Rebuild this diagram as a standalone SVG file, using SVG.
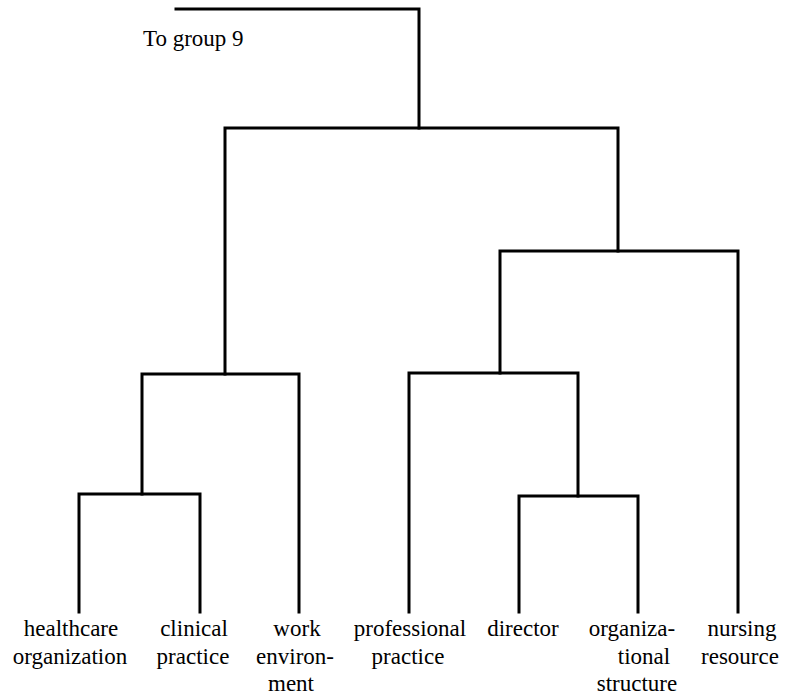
<svg xmlns="http://www.w3.org/2000/svg" width="790" height="697" viewBox="0 0 790 697">
  <style>
    .link { fill: none; stroke: #000; stroke-width: 3; stroke-linecap: square; stroke-linejoin: miter; }
    .lbl { font-size: 23px; fill: #000; text-anchor: middle; }
  </style>
  <rect width="790" height="697" fill="#fff"/>

  <!-- dendrogram links -->
  <g id="connectors">
    <!-- root: off to group 9 -->
    <path class="link" d="M176,9 H419 V128"/>
    <!-- top merge -->
    <path class="link" d="M225,374 V128 H618 V251"/>
    <!-- left cluster -->
    <path class="link" d="M142,494 V374 H299 V612"/>
    <path class="link" d="M79,612 V494 H200 V612"/>
    <!-- right cluster -->
    <path class="link" d="M500,373 V251 H738 V612"/>
    <path class="link" d="M409,612 V373 H578 V496"/>
    <path class="link" d="M519,612 V496 H638 V612"/>
  </g>

  <g id="labels">
    <g id="to-group-9">
      <text class="lbl" x="143" y="46" style="text-anchor:start;font-family:'Liberation Serif'">To group 9</text>
    </g>
    <g id="healthcare-organization">
      <text class="lbl" x="71" y="636" style="font-family:'Liberation Serif'">healthcare</text>
      <text class="lbl" x="70" y="664" style="font-family:'Liberation Serif'">organization</text>
    </g>
    <g id="clinical-practice">
      <text class="lbl" x="194" y="636" style="font-family:'Liberation Serif'">clinical</text>
      <text class="lbl" x="193" y="664" style="font-family:'Liberation Serif'">practice</text>
    </g>
    <g id="work-environment">
      <text class="lbl" x="297" y="636" style="font-family:'Liberation Serif'">work</text>
      <text class="lbl" x="295" y="664" style="font-family:'Liberation Serif'">environ-</text>
      <text class="lbl" x="291" y="691" style="font-family:'Liberation Serif'">ment</text>
    </g>
    <g id="professional-practice">
      <text class="lbl" x="410" y="636" style="font-family:'Liberation Serif'">professional</text>
      <text class="lbl" x="408" y="664" style="font-family:'Liberation Serif'">practice</text>
    </g>
    <g id="director">
      <text class="lbl" x="523" y="636" style="font-family:'Liberation Serif'">director</text>
    </g>
    <g id="organizational-structure">
      <text class="lbl" x="632" y="636" style="font-family:'Liberation Serif'">organiza-</text>
      <text class="lbl" x="644" y="664" style="font-family:'Liberation Serif'">tional</text>
      <text class="lbl" x="637" y="691" style="font-family:'Liberation Serif'">structure</text>
    </g>
    <g id="nursing-resource">
      <text class="lbl" x="742" y="636" style="font-family:'Liberation Serif'">nursing</text>
      <text class="lbl" x="740" y="664" style="font-family:'Liberation Serif'">resource</text>
    </g>
  </g>
</svg>
